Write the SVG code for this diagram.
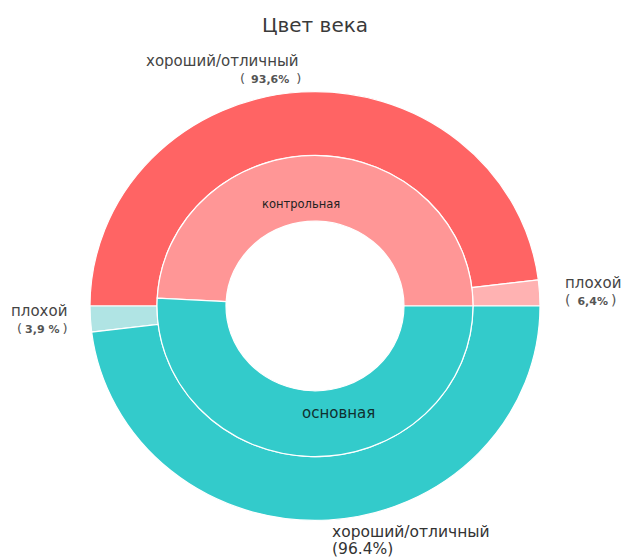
<svg xmlns="http://www.w3.org/2000/svg" width="622" height="558" viewBox="0 0 622 558">
<style>
text{font-family:"DejaVu Sans","Noto Sans",sans-serif}
.seg{stroke:#ffffff;stroke-width:1.2;vector-effect:non-scaling-stroke}
.lbl{fill:#444444;font-size:15px}
.pct{fill:#555555;font-size:11px;font-weight:bold}
</style>
<rect width="622" height="558" fill="#ffffff"/>
<text x="315" y="32" text-anchor="middle" style="font-size:20px;fill:#3a3a3a">Цвет века</text>
<g transform="translate(315,306) scale(1,0.953)">
<g id="outer-good-control"><path class="seg" fill="#FF6464" d="M 223.32 -27.42 A 225 225 0 0 0 -225 0 L -158 0 A 158 158 0 0 1 156.82 -19.26 Z"/></g>
<g id="outer-bad-control"><path class="seg" fill="#FFB2B2" d="M 225 0 A 225 225 0 0 0 223.32 -27.42 L 156.82 -19.26 A 158 158 0 0 1 158 0 Z"/></g>
<g id="outer-bad-main"><path class="seg" fill="#B0E4E4" d="M -225 0 A 225 225 0 0 0 -223.32 27.42 L -156.82 19.26 A 158 158 0 0 1 -158 0 Z"/></g>
<g id="outer-good-main"><path class="seg" fill="#33CBCB" d="M -223.32 27.42 A 225 225 0 0 0 225 0 L 158 0 A 158 158 0 0 1 -156.82 19.26 Z"/></g>
<g id="inner-control"><path class="seg" fill="#FF9696" d="M 158 0 A 158 158 0 0 0 -157.78 -8.27 L -88.88 -4.66 A 89 89 0 0 1 89 0 Z"/></g>
<g id="inner-main"><path class="seg" fill="#33CBCB" d="M -157.78 -8.27 A 158 158 0 1 0 158 0 L 89 0 A 89 89 0 1 1 -88.88 -4.66 Z"/></g>
</g>
<text x="262" y="208" style="font-size:11.5px;fill:#222222">контрольная</text>
<text x="302" y="418" style="font-size:15px;fill:#10302f">основная</text>
<g id="label-good-control">
<text class="lbl" x="146" y="66">хороший/отличный</text>
<text x="240" y="83" style="font-size:13px;fill:#555555">(<tspan class="pct" dx="6">93,6%</tspan><tspan dx="7">)</tspan></text>
</g>
<g id="label-bad-main">
<text class="lbl" x="11" y="316">плохой</text>
<text x="17" y="333" style="font-size:13px;fill:#555555">(<tspan class="pct" dx="3">3,9 %</tspan><tspan dx="3">)</tspan></text>
</g>
<g id="label-bad-control">
<text class="lbl" x="565" y="288">плохой</text>
<text x="565" y="305" style="font-size:14px;fill:#555555">(<tspan class="pct" dx="7">6,4%</tspan><tspan dx="3">)</tspan></text>
</g>
<g id="label-good-main">
<text x="332" y="537" style="font-size:15.5px;fill:#333333">хороший/отличный</text>
<text x="332" y="554" style="font-size:15.5px;fill:#333333">(96.4%)</text>
</g>
</svg>
